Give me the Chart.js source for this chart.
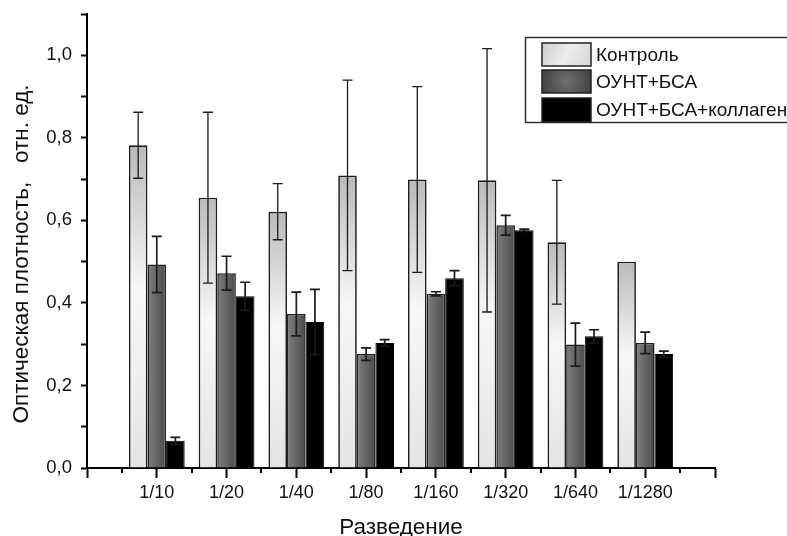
<!DOCTYPE html>
<html><head><meta charset="utf-8">
<script src="https://cdn.jsdelivr.net/npm/chart.js@4.4.1/dist/chart.umd.min.js"></script>
<style>html,body{margin:0;padding:0;background:#fff}#wrap{width:787px;height:536px}</style>
</head><body><div id="wrap"><canvas id="c" width="787" height="536"></canvas></div>
<script>
const categories = ['1/10','1/20','1/40','1/80','1/160','1/320','1/640','1/1280'];
const seriesNames = ['Контроль','ОУНТ+БСА','ОУНТ+БСА+коллаген'];
const control    = [0.782,0.655,0.621,0.709,0.699,0.697,0.547,0.500];
const controlErr = [0.080,0.207,0.068,0.231,0.225,0.319,0.150,0.000];
const ount       = [0.493,0.472,0.373,0.276,0.422,0.588,0.299,0.303];
const ountErr    = [0.068,0.041,0.053,0.015,0.005,0.024,0.052,0.026];
const coll       = [0.066,0.416,0.354,0.303,0.460,0.576,0.319,0.276];
const collErr    = [0.008,0.034,0.079,0.008,0.018,0.003,0.016,0.007];
const xTitle = 'Разведение';
const yTitle = 'Оптическая плотность,   отн. ед.';

const FONT = "'Liberation Sans', Arial, Helvetica, sans-serif";

function controlFill(ctx){
  const ch = ctx.chart;
  if (!ch.chartArea || !ch.scales.y || !ctx.parsed) return '#d0d0d0';
  const y = ch.scales.y;
  const top = y.getPixelForValue(ctx.parsed.y), base = y.getPixelForValue(0);
  const g = ch.ctx.createLinearGradient(0, top, 0, base);
  g.addColorStop(0, '#bababa');
  g.addColorStop(0.45, '#f7f7f7');
  g.addColorStop(1, '#e4e4e4');
  return g;
}
function ountFill(ctx){
  const ch = ctx.chart;
  if (!ch.chartArea || !ch.scales.x || !ctx.parsed) return '#5a5a5a';
  const x = ch.scales.x;
  const cx = x.getPixelForValue(ctx.parsed.x);
  const hw = 0.8 * (x.getPixelForValue(1) - x.getPixelForValue(0)) / 6;
  const g = ch.ctx.createLinearGradient(cx - hw, 0, cx + hw, 0);
  g.addColorStop(0, '#7e7e7e');
  g.addColorStop(1, '#4c4c4c');
  return g;
}

const errorBars = {
  id: 'errorBars',
  afterDatasetsDraw(chart){
    const c = chart.ctx, y = chart.scales.y;
    c.save();
    c.strokeStyle = '#1a1a1a';
    chart.data.datasets.forEach((ds, di) => {
      const meta = chart.getDatasetMeta(di);
      c.lineWidth = di === 0 ? 1.3 : 1.7;
      meta.data.forEach((el, i) => {
        const e = ds.errors[i];
        if (!e) return;
        const v = ds.data[i].y;
        const x = el.x, t = y.getPixelForValue(v + e), b = y.getPixelForValue(v - e);
        c.beginPath();
        c.moveTo(x, t); c.lineTo(x, b);
        c.moveTo(x - 5, t); c.lineTo(x + 5, t);
        c.moveTo(x - 5, b); c.lineTo(x + 5, b);
        c.stroke();
      });
    });
    c.restore();
  }
};

const decor = {
  id: 'decor',
  afterDraw(chart){
    const c = chart.ctx, x = chart.scales.x, y = chart.scales.y;
    const y0 = y.getPixelForValue(0);
    c.save();
    c.strokeStyle = '#000'; c.lineWidth = 2;
    for (let k = -0.5; k < categories.length; k += 1) {
      const px = Math.round(x.getPixelForValue(k));
      c.beginPath(); c.moveTo(px, y0); c.lineTo(px, y0 + 5); c.stroke();
    }
    c.fillStyle = '#111';
    c.font = '22.5px ' + FONT;
    c.textAlign = 'center';
    c.textBaseline = 'alphabetic';
    c.fillText(xTitle, (chart.chartArea.left + chart.chartArea.right) / 2, 534);
    c.save();
    c.translate(28, 254);
    c.rotate(-Math.PI / 2);
    c.fillText(yTitle, 0, 0);
    c.restore();
    const bx = 525, by = 37, bw = 280, bh = 85;
    c.fillStyle = '#fff';
    c.fillRect(bx, by, bw, bh);
    c.strokeStyle = '#333'; c.lineWidth = 1.5;
    c.strokeRect(bx + 0.5, by + 0.5, bw, bh);
    const rows = [{y: 43, h: 23}, {y: 70, h: 23}, {y: 98, h: 24}];
    const sx = 542, sw = 49;
    rows.forEach((r, i) => {
      let fill;
      if (i === 0) {
        fill = c.createLinearGradient(sx, r.y, sx + sw, r.y + r.h);
        fill.addColorStop(0, '#cfcfcf'); fill.addColorStop(0.5, '#ececec'); fill.addColorStop(1, '#d6d6d6');
      } else if (i === 1) {
        fill = c.createRadialGradient(sx + sw / 2, r.y + r.h / 2, 2, sx + sw / 2, r.y + r.h / 2, sw / 2);
        fill.addColorStop(0, '#6c6c6c'); fill.addColorStop(1, '#444');
      } else {
        fill = '#000';
      }
      c.fillStyle = fill;
      c.fillRect(sx, r.y, sw, r.h);
      c.strokeStyle = '#222'; c.lineWidth = 1.5;
      c.strokeRect(sx, r.y, sw, r.h);
      c.fillStyle = '#111';
      c.font = '19px ' + FONT;
      c.textAlign = 'left';
      c.textBaseline = 'middle';
      c.fillText(seriesNames[i], 596, r.y + r.h / 2 + 1);
    });
    c.restore();
  }
};

const toPts = arr => arr.map((v, i) => ({x: i, y: v}));

new Chart(document.getElementById('c'), {
  type: 'bar',
  data: {
    datasets: [
      {label: seriesNames[0], data: toPts(control), errors: controlErr, backgroundColor: controlFill, borderColor: '#1e1e1e', borderWidth: 1.7},
      {label: seriesNames[1], data: toPts(ount), errors: ountErr, backgroundColor: ountFill, borderColor: '#1e1e1e', borderWidth: 1.5},
      {label: seriesNames[2], data: toPts(coll), errors: collErr, backgroundColor: '#000', borderColor: '#000', borderWidth: 1}
    ]
  },
  options: {
    responsive: false,
    devicePixelRatio: 1,
    animation: false,
    layout: {padding: {left: 0, top: 14, right: 72, bottom: 0}},
    datasets: {bar: {categoryPercentage: 0.8, barPercentage: 1.0}},
    plugins: {legend: {display: false}, tooltip: {enabled: false}},
    scales: {
      x: {
        type: 'linear', min: -1, max: 8, offset: false,
        afterFit: s => { s.height = 68; s.paddingLeft = 0; s.paddingRight = 0; },
        grid: {display: true, drawOnChartArea: false, drawTicks: true, tickLength: 10, tickWidth: 2, tickColor: '#000', offset: false},
        border: {display: true, color: '#000', width: 2},
        ticks: {
          stepSize: 1, autoSkip: false, maxRotation: 0, padding: 4,
          color: '#111', font: {family: FONT, size: 18},
          callback: v => (Number.isInteger(v) && categories[v] !== undefined) ? categories[v] : ''
        }
      },
      y: {
        type: 'linear', min: 0, max: 1.1,
        afterFit: s => { s.width = 87; s.paddingTop = 0; s.paddingBottom = 0; },
        grid: {display: true, drawOnChartArea: false, drawTicks: true, tickLength: 6, tickWidth: 2, tickColor: '#000'},
        border: {display: true, color: '#000', width: 2},
        ticks: {
          stepSize: 0.1, autoSkip: false, padding: 9,
          color: '#111', font: {family: FONT, size: 18.5},
          callback: v => {
            const t = Math.round(v * 10);
            return (t % 2 === 0 && t <= 10) ? (t / 10).toFixed(1).replace('.', ',') : '';
          }
        }
      }
    }
  },
  plugins: [errorBars, decor]
});
</script>
</body></html>
